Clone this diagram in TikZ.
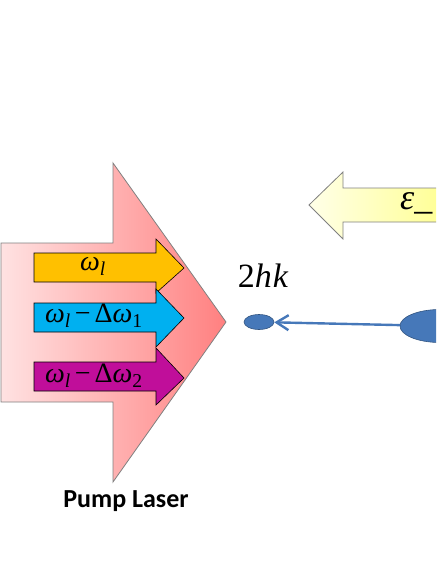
\documentclass[tikz,border=0pt]{standalone}
\usepackage{fontspec}
\setsansfont{Carlito}
\newfontfamily\timesf{Liberation Serif}
\usetikzlibrary{arrows.meta,shapes.geometric}

\definecolor{pinkL}{RGB}{255,226,226}
\definecolor{pinkR}{RGB}{255,128,128}
\definecolor{yelL}{RGB}{255,255,232}
\definecolor{yelR}{RGB}{255,255,150}
\definecolor{beamO}{RGB}{255,192,0}
\definecolor{beamB}{RGB}{0,176,240}
\definecolor{beamP}{RGB}{192,14,154}
\definecolor{atomB}{RGB}{70,120,185}

\newcommand{\sub}[1]{\textsubscript{#1}}
\newcommand{\mns}{\upshape\kern4pt−\kern4pt}

\begin{document}
\begin{tikzpicture}[x=1pt, y=-1pt, >={Straight Barb[length=12pt,width=15pt]},
	beam/.style={draw=black, line width=0.6pt},
	freq/.style={font=\timesf\fontsize{28}{30}\selectfont, inner sep=0pt},
	atom/.style={ellipse, draw=atomB!70!black, fill=atomB, line width=0.6pt, inner sep=0pt}]
	\useasboundingbox (0,0) rectangle (436,564);
	\clip (0,0) rectangle (436,564);
	% pump laser (big arrow)
	\shade[left color=pinkL, right color=pinkR, draw=gray, line width=0.8pt]
		(1,243) -- (113,243) -- (113,163) -- (226,322) -- (113,482) -- (113,402) -- (1,402) -- cycle;
	% the three frequencies
	\fill[beamO, beam] (34,253) -- (156,253) -- (156,239) -- (184,268) -- (156,293) -- (156,282) -- (34,282) -- cycle;
	\fill[beamB, beam] (34,303) -- (156,303) -- (156,289) -- (184,318) -- (156,347) -- (156,332) -- (34,332) -- cycle;
	\fill[beamP, beam] (34,362) -- (156,362) -- (156,348) -- (184,378) -- (156,405) -- (156,391) -- (34,391) -- cycle;
	\node[freq] (wl) at (93,266) {\itshape ω\sub{l}};
	\node[freq] (wl1) at (94,316) {\itshape ω\sub{l}\mns Δ\itshape ω\sub{\upshape 1}};
	\node[freq] (wl2) at (94,376) {\itshape ω\sub{l}\mns Δ\itshape ω\sub{\upshape 2}};
	\node[font=\sffamily\bfseries\fontsize{26}{30}\selectfont] (pump) at (126,501) {Pump Laser};
	% probe field
	\shade[left color=yelL, right color=yelR, draw=gray, line width=0.8pt]
		(309,205) -- (343,172) -- (343,188) -- (440,188) -- (440,222) -- (343,222) -- (343,239) -- cycle;
	\node[font=\timesf\fontsize{36}{38}\selectfont, anchor=west, inner sep=0pt] (eps) at (400,203) {\itshape ε\upshape\_};
	% recoil
	\node[font=\timesf\fontsize{34}{36}\selectfont] (recoil) at (263,276) {2\itshape h\kern1pt k};
	\node[atom, minimum width=30pt, minimum height=15pt] (small) at (259,322) {};
	\node[atom, minimum width=80pt, minimum height=33pt] (big) at (440,326) {};
	\draw[->, atomB, line width=2.4pt] (big) -- (small);
\end{tikzpicture}
\end{document}
